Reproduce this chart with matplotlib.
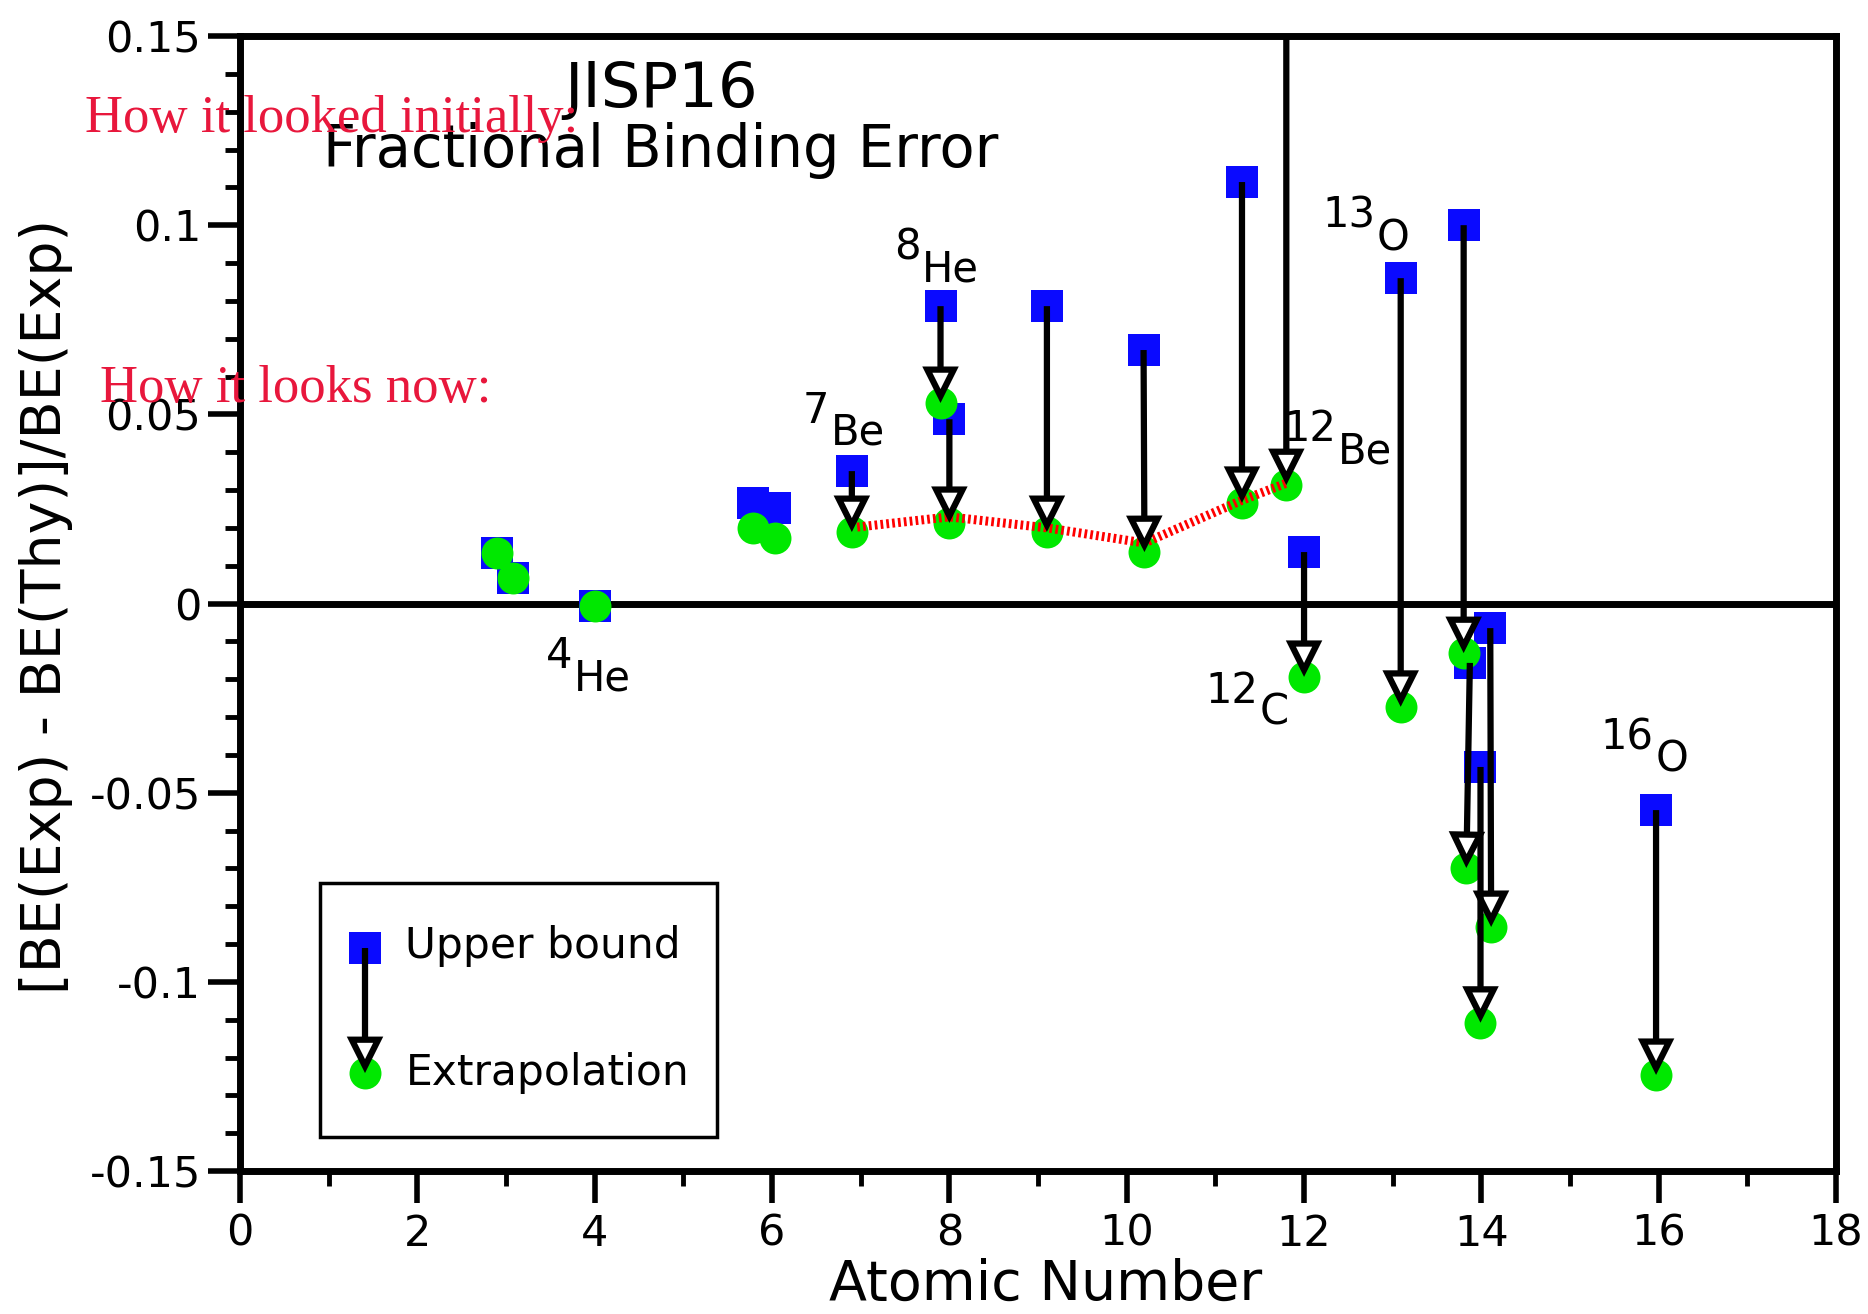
import matplotlib
matplotlib.use("Agg")
import matplotlib.pyplot as plt
from matplotlib.patches import FancyArrowPatch, Rectangle
from matplotlib.ticker import FixedLocator, MultipleLocator

# ================================
# Data
# ================================
# points where bound and extrapolation nearly coincide (no arrow)
near_x = [2.9, 3.08, 4.0, 5.79, 6.03]
near_upper = [0.0133, 0.0067, -0.0007, 0.0266, 0.0252]
near_extrap = [0.0133, 0.0067, -0.0007, 0.0200, 0.0173]

# points joined by an arrow: upper bound -> extrapolation
up_x = [6.90, 7.90, 8.00, 9.10, 10.19, 11.30, 11.80, 12.00, 13.09, 13.80, 13.87, 14.10, 13.99, 15.97]
upper = [0.0350, 0.0786, 0.0487, 0.0786, 0.0670, 0.1114, 0.1800, 0.0136, 0.0860, 0.1000, -0.0157, -0.0065, -0.0432, -0.0546]
ex_x = [6.90, 7.90, 8.00, 9.10, 10.20, 11.30, 11.80, 12.00, 13.09, 13.80, 13.83, 14.11, 13.99, 15.97]
extrap = [0.0189, 0.0530, 0.0213, 0.0189, 0.0136, 0.0266, 0.0313, -0.0194, -0.0273, -0.0131, -0.0699, -0.0855, -0.1108, -0.1246]

# red dotted trend line
trend_x = [6.96, 8.0, 9.1, 10.2, 11.3, 11.8]
trend_y = [0.0202, 0.0229, 0.0200, 0.0160, 0.0273, 0.0318]

# isotope labels (element text baseline-left)
iso_mass = ["4", "7", "8", "12", "12", "13", "16"]
iso_elem = ["He", "Be", "He", "Be", "C", "O", "O"]
iso_x = [3.76, 6.66, 7.69, 12.38, 11.50, 12.82, 15.96]
iso_y = [-0.0229, 0.0419, 0.0850, 0.0371, -0.0321, 0.0934, -0.0445]

ytick_vals = [-0.15, -0.1, -0.05, 0, 0.05, 0.1, 0.15]
ytick_labels = ["-0.15", "-0.1", "-0.05", "0", "0.05", "0.1", "0.15"]
xtick_vals = [0, 2, 4, 6, 8, 10, 12, 14, 16, 18]

BLUE = "#0a0aff"
GREEN = "#00e800"
RED_TXT = "#e8173c"

plt.rcParams["font.family"] = ["DejaVu Sans"]

fig = plt.figure(figsize=(18.68, 13.14), dpi=100)
ax = fig.add_axes([0.1285, 0.1088, 0.8544, 0.8638])


def down_arrow(ax, start, end, **kw):
    arr = FancyArrowPatch(start, end,
                          arrowstyle="-|>,head_length=19,head_width=9.5",
                          mutation_scale=1, lw=4.5, fc="white", ec="black",
                          joinstyle="miter", capstyle="butt",
                          shrinkA=0, shrinkB=0, zorder=4, **kw)
    ax.add_patch(arr)
    return arr


def iso_label(ax, mass, elem, x, y):
    ax.text(x, y, elem, fontsize=30, ha="left", va="baseline", zorder=5)
    ax.annotate(mass, xy=(x, y), xytext=(-1, 16), textcoords="offset points",
                fontsize=30, ha="right", va="baseline", zorder=5)


# zero line
ax.axhline(0, color="black", lw=5, zorder=1)

# markers
ax.plot(near_x, near_upper, "s", color=BLUE, ms=23, mew=0, zorder=2)
ax.plot(up_x, upper, "s", color=BLUE, ms=23, mew=0, zorder=2)
ax.plot(near_x, near_extrap, "o", color=GREEN, ms=23, mew=0, zorder=3)
ax.plot(ex_x, extrap, "o", color=GREEN, ms=23, mew=0, zorder=3)

# trend line
ax.plot(trend_x, trend_y, color="red", lw=6.5, linestyle=(0, (0.3, 0.35)), zorder=3.5)

# arrows
for xa, ya, xb, yb in zip(up_x, upper, ex_x, extrap):
    down_arrow(ax, (xa, ya), (xb, yb))

for m, e, x, y in zip(iso_mass, iso_elem, iso_x, iso_y):
    iso_label(ax, m, e, x, y)

# axes styling
ax.set_xlim(0, 18)
ax.set_ylim(-0.15, 0.15)
ax.xaxis.set_major_locator(FixedLocator(xtick_vals))
ax.xaxis.set_minor_locator(MultipleLocator(1))
ax.set_xticklabels([str(v) for v in xtick_vals])
ax.yaxis.set_major_locator(FixedLocator(ytick_vals))
ax.yaxis.set_minor_locator(MultipleLocator(0.01))
ax.set_yticklabels(ytick_labels)
ax.tick_params(which="major", direction="out", length=23, width=4,
               labelsize=31, top=False, right=False)
ax.tick_params(axis="y", which="major", pad=5)
ax.tick_params(axis="x", which="major", pad=7)
ax.tick_params(which="minor", direction="out", length=11, width=3.5,
               top=False, right=False)
for sp in ax.spines.values():
    sp.set_linewidth(5)

# legend drawn by hand
ax.add_patch(Rectangle((0.0501, 0.030), 0.2485, 0.2237, transform=ax.transAxes,
                       fc="white", ec="black", lw=2.5, zorder=6))
ax.plot([0.0783], [0.1965], "s", color=BLUE, ms=23, mew=0,
        transform=ax.transAxes, zorder=7)
ax.plot([0.0783], [0.0863], "o", color=GREEN, ms=23, mew=0,
        transform=ax.transAxes, zorder=7)
down_arrow(ax, (0.0783, 0.1965), (0.0783, 0.0863), transform=ax.transAxes).set_zorder(8)
ax.text(0.1036, 0.1877, "Upper bound", fontsize=30.5, ha="left", va="baseline",
        transform=ax.transAxes, zorder=8)
ax.text(0.1036, 0.0758, "Extrapolation", fontsize=30.5, ha="left", va="baseline",
        transform=ax.transAxes, zorder=8)

# titles and labels
fig.text(0.3539, 0.9186, "JISP16", fontsize=45, ha="center", va="baseline")
fig.text(0.3539, 0.8729, "Fractional Binding Error", fontsize=41.5,
         ha="center", va="baseline")
fig.text(0.56, 0.0107, "Atomic Number", fontsize=40, ha="center", va="baseline")
fig.text(0.0246, 0.5388, "[BE(Exp) - BE(Thy)]/BE(Exp)", fontsize=40,
         rotation=90, ha="center", va="center")

# red overlay notes
fig.text(0.0455, 0.8995, "How it looked initially:", fontsize=38,
         family="Liberation Serif", color=RED_TXT, ha="left", va="baseline")
fig.text(0.0535, 0.694, "How it looks now:", fontsize=38,
         family="Liberation Serif", color=RED_TXT, ha="left", va="baseline")

fig.savefig("out.png", dpi=100)
